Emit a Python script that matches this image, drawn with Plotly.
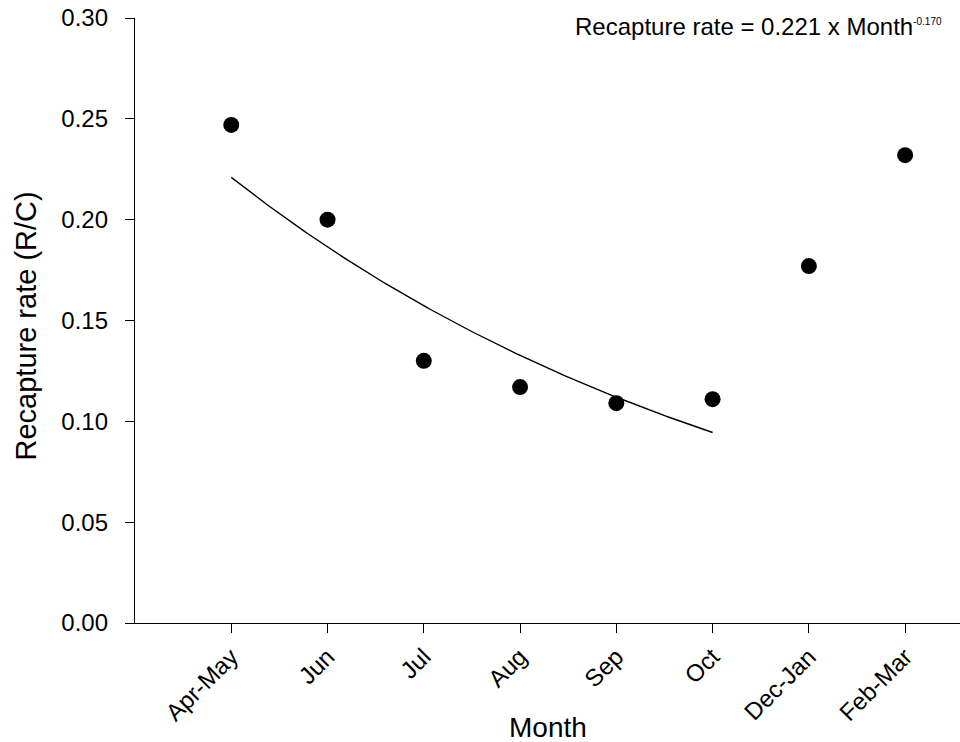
import numpy as np
import plotly.graph_objects as go

# Recapture rate by sampling month
months = ["Apr-May", "Jun", "Jul", "Aug", "Sep", "Oct", "Dec-Jan", "Feb-Mar"]
month_index = [1, 2, 3, 4, 5, 6, 7, 8]
recapture_rate = [0.247, 0.200, 0.130, 0.117, 0.109, 0.111, 0.177, 0.232]

# Fitted regression (Apr-May .. Oct)
fit_a = 0.221
fit_b = 0.170
fit_x = np.linspace(1, 6, 200)
fit_y = fit_a * np.exp(-fit_b * (fit_x - 1))

FONT = "Liberation Sans, Arial, sans-serif"

fig = go.Figure()
fig.add_trace(go.Scatter(
    x=fit_x, y=fit_y, mode="lines",
    line=dict(color="black", width=1.4),
    showlegend=False, hoverinfo="skip",
))
fig.add_trace(go.Scatter(
    x=month_index, y=recapture_rate, mode="markers",
    marker=dict(color="black", size=16),
    showlegend=False,
))

# Regression equation
fig.add_annotation(
    x=1, xref="paper", y=1, yref="paper", xanchor="right", yanchor="middle",
    text=(f"Recapture rate = {fit_a:.3f} x Month"
          f"<sup><span style='font-size:10px'>-{fit_b:.3f}</span></sup>"),
    showarrow=False, font=dict(family=FONT, size=24, color="black"),
    xshift=-16, yshift=-8,
)

# Axis titles
fig.add_annotation(
    x=0.5, xref="paper", y=0, yref="paper", xanchor="center", yanchor="middle",
    text="Month", showarrow=False, font=dict(family=FONT, size=28, color="black"),
    yshift=-104,
)
fig.add_annotation(
    x=0, xref="paper", y=0.5, yref="paper", xanchor="center", yanchor="middle",
    text="Recapture rate (R/C)", textangle=-90, showarrow=False,
    font=dict(family=FONT, size=29, color="black"),
    xshift=-110, yshift=-6,
)

fig.update_layout(
    width=960, height=742,
    margin=dict(l=135, r=0, t=18, b=119),
    paper_bgcolor="white", plot_bgcolor="white",
    font=dict(family=FONT, color="black"),
)
fig.update_xaxes(
    range=[0, 8.57], tickmode="array", tickvals=month_index, ticktext=months,
    tickangle=-45, ticks="outside", ticklen=9, tickwidth=1.4, tickcolor="black",
    showline=True, linecolor="black", linewidth=1.4, showgrid=False, zeroline=False,
    tickfont=dict(family=FONT, size=24), automargin=False,
)
fig.update_yaxes(
    range=[0, 0.30], tickvals=[0, 0.05, 0.10, 0.15, 0.20, 0.25, 0.30],
    tickformat=".2f",
    ticks="outside", ticklen=9, tickwidth=1.4, tickcolor="black",
    showline=True, linecolor="black", linewidth=1.4, showgrid=False, zeroline=False,
    tickfont=dict(family=FONT, size=24), automargin=False, ticklabelstandoff=12,
)

fig.write_html("out.html")
